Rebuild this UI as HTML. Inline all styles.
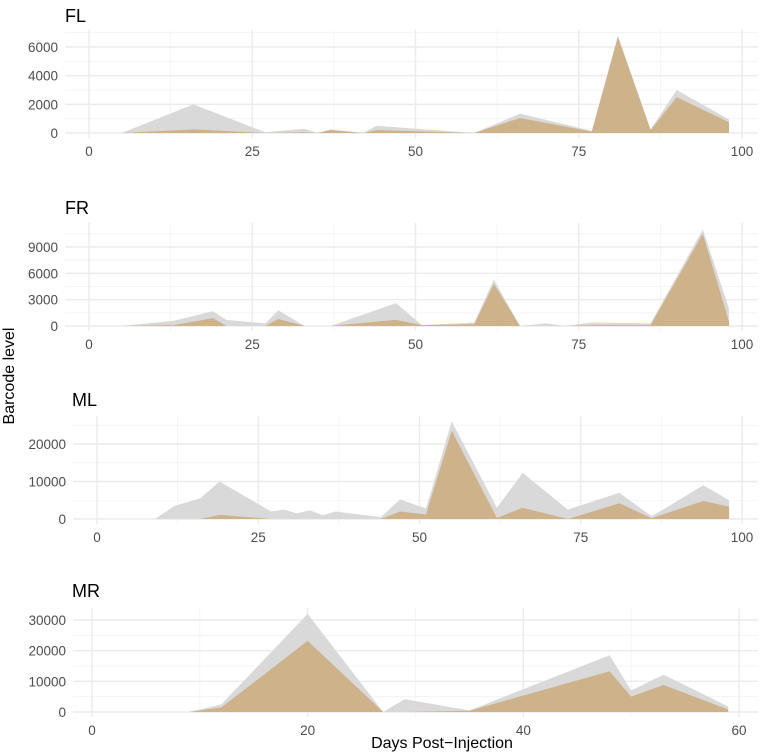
<!DOCTYPE html>
<html><head><meta charset="utf-8">
<style>
body{margin:0;background:#fff;}
svg{display:block;font-family:"Liberation Sans",sans-serif;}
</style></head>
<body>
<svg id="chart" width="762" height="753" viewBox="0 0 762 753">
<text x="14" y="376" transform="rotate(-90 14 376)" text-anchor="middle" font-size="16" fill="#000">Barcode level</text>
<text x="442" y="748" text-anchor="middle" font-size="16" fill="#000">Days Post−Injection</text>
</svg>
<script>
const panelNames = ["FL","FR","ML","MR"];
const flDays  = [0,5,16,27,33,35,37,42,44,59,66,77,81,86,90,98];
const flTotal = [0,0,2000,50,300,0,250,0,500,0,1350,150,6800,250,3000,950];
const flTop   = [0,0,250,0,50,0,200,0,200,0,1050,100,6700,200,2500,750];
const frDays  = [0,5,13,19,21,27,29,33,37,47,51,59,62,66,70,73,77,86,94,98];
const frTotal = [0,0,600,1700,700,300,1800,0,0,2600,100,400,5300,0,300,0,400,300,11000,2000];
const frTop   = [0,0,100,900,0,0,800,0,0,700,100,200,4800,0,0,0,100,100,10500,500];
const mlDays  = [0,9,12,16,19,27,29,31,33,35,37,44,47,51,55,62,66,73,81,86,94,98];
const mlTotal = [0,0,3500,5500,10000,2000,2500,1500,2300,1000,2000,500,5200,2800,26000,3000,12300,2500,7000,700,9000,5000];
const mlTop   = [0,0,0,0,1100,0,0,0,0,0,0,0,2000,1200,23500,300,3000,0,4200,200,4800,3300];
const mrDays  = [0,9,12,20,27,29,35,48,50,53,59];
const mrTotal = [0,0,2500,32000,0,4200,500,18500,7000,12200,1800];
const mrTop   = [0,0,1500,23200,0,0,400,13300,5000,8800,800];
const flYTicks = [0,2000,4000,6000];
const frYTicks = [0,3000,6000,9000];
const mlYTicks = [0,10000,20000];
const mrYTicks = [0,10000,20000,30000];
const xTicks100 = [0,25,50,75,100];
const xTicks60 = [0,20,40,60];

const NS="http://www.w3.org/2000/svg";
const svg=document.getElementById('chart');
function mk(tag,attrs,parent){const e=document.createElementNS(NS,tag);for(const k in attrs)e.setAttribute(k,attrs[k]);(parent||svg).appendChild(e);return e;}

const layouts=[
 {days:flDays,total:flTotal,top:flTop,yt:flYTicks,xt:xTicks100,xmax:100,x0:89,x1:742,y0:133,yRef:6000,yRefPx:47,left:65,right:758,ptop:30,pbot:138,title:"FL",ty:22,tx:65},
 {days:frDays,total:frTotal,top:frTop,yt:frYTicks,xt:xTicks100,xmax:100,x0:89,x1:742,y0:326,yRef:9000,yRefPx:247,left:65,right:758,ptop:223,pbot:331,title:"FR",ty:214,tx:65},
 {days:mlDays,total:mlTotal,top:mlTop,yt:mlYTicks,xt:xTicks100,xmax:100,x0:97,x1:742,y0:519,yRef:20000,yRefPx:444,left:73,right:758,ptop:416,pbot:524,title:"ML",ty:406,tx:72},
 {days:mrDays,total:mrTotal,top:mrTop,yt:mrYTicks,xt:xTicks60,xmax:60,x0:92,x1:739,y0:712,yRef:30000,yRefPx:620,left:73,right:758,ptop:608,pbot:717,title:"MR",ty:597,tx:72}
];

layouts.forEach((L,i)=>{
  const g=mk('g',{});
  
  
  const xs=v=>L.x0+(L.x1-L.x0)*v/L.xmax;
  const ys=v=>L.y0-(L.y0-L.yRefPx)*v/L.yRef;
  const step=L.yt[1]-L.yt[0];
  for(let v=-step/2; ys(v)>=L.ptop-1; v+=step){
    if(ys(v)>L.pbot) continue;
    const ln=mk('line',{x1:L.left,x2:L.right,y1:ys(v),y2:ys(v),stroke:'#f2f2f2','stroke-width':0.8},g);
     
  }
  const xstep=L.xt[1]-L.xt[0];
  for(let v=xstep/2; v<L.xmax; v+=xstep){
    const ln=mk('line',{x1:xs(v),x2:xs(v),y1:L.ptop,y2:L.pbot,stroke:'#f2f2f2','stroke-width':0.8},g);
     
  }
  L.yt.forEach(v=>{
    const ln=mk('line',{x1:L.left,x2:L.right,y1:ys(v),y2:ys(v),stroke:'#ebebeb','stroke-width':1.4},g);
     
    const t=mk('text',{x:L.left-7,y:ys(v)+5,'text-anchor':'end','font-size':13.5,fill:'#4d4d4d'},g);
    t.textContent=v;
     
  });
  L.xt.forEach(v=>{
    const ln=mk('line',{x1:xs(v),x2:xs(v),y1:L.ptop,y2:L.pbot,stroke:'#ebebeb','stroke-width':1.4},g);
     
    const t=mk('text',{x:xs(v),y:L.pbot+18,'text-anchor':'middle','font-size':13.5,fill:'#4d4d4d'},g);
    t.textContent=v;
     
  });
  function area(vals,fill,name){
    let d='M'+xs(L.days[0])+','+ys(0);
    L.days.forEach((dd,k)=>{d+=' L'+xs(dd)+','+ys(vals[k]);});
    d+=' L'+xs(L.days[L.days.length-1])+','+ys(0)+' Z';
    const p=mk('path',{d:d,fill:fill},g);
     
  }
  area(L.total,'#d9d9d9','total-area');
  area(L.top,'#cdb28a','top-barcode-area');
  const t=mk('text',{x:L.tx,y:L.ty,'font-size':18,fill:'#000'},g);
  t.textContent=L.title;
   
});
</script>
</body></html>
